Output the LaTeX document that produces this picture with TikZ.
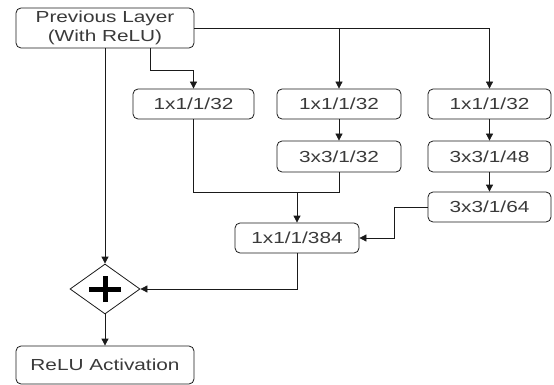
\documentclass[tikz,border=0pt]{standalone}
\usepackage{fontspec}
\setmainfont{Liberation Sans}[FakeStretch=1.3]
\usetikzlibrary{arrows.meta,shapes.geometric}
\definecolor{inkline}{HTML}{1A1A1A}
\definecolor{inktext}{HTML}{3A3A3A}
\begin{document}
\begin{tikzpicture}[x=1pt,y=-1pt,
  layer/.style={draw=inkline,line width=0.8pt,rounded corners=5pt,
    text=inktext,font=\fontsize{16}{19}\selectfont,inner sep=0pt,align=center},
  conn/.style={draw=inkline,line width=0.8pt},
  arr/.style={conn,-{Triangle[length=7pt,width=7pt]}}]
\useasboundingbox (0,0) rectangle (554,385);

% layers
\node[layer,minimum width=178pt,minimum height=40pt] (prev) at (105,28) {Previous Layer\\(With ReLU)};
\node[layer,minimum width=121pt,minimum height=30pt] (b11) at (193.5,104) {1x1/1/32};
\node[layer,minimum width=124pt,minimum height=30pt] (b21) at (339,104) {1x1/1/32};
\node[layer,minimum width=123pt,minimum height=30pt] (b31) at (489.5,104) {1x1/1/32};
\node[layer,minimum width=124pt,minimum height=31pt] (b22) at (339,156.5) {3x3/1/32};
\node[layer,minimum width=123pt,minimum height=31pt] (b32) at (489.5,156.5) {3x3/1/48};
\node[layer,minimum width=123pt,minimum height=30pt] (b33) at (489.5,207) {3x3/1/64};
\node[layer,minimum width=124pt,minimum height=30pt] (b384) at (297,238) {1x1/1/384};
\node[layer,minimum width=178pt,minimum height=38pt] (relu) at (105,365) {ReLU Activation};

% element-wise sum
\node[diamond,draw=inkline,line width=0.8pt,inner sep=0pt,minimum width=70pt,minimum height=50pt] (sum) at (105,289) {};
\draw[black,line width=5pt] ([xshift=-16pt]sum.center) -- ([xshift=16pt]sum.center)
  ([yshift=-13pt]sum.center) -- ([yshift=13pt]sum.center);

% routing points
\coordinate (k1) at (150,70);
\coordinate (m1) at (339,192);
\coordinate (c3) at (394,207);

% connectors
\draw[arr] (prev.east) -| (b31.north);
\draw[arr] (prev.east -| b21.north) -- (b21.north);
\draw[arr] (prev.south -| k1) -- (k1) -| (b11.north);
\draw[arr] (prev.south) -- (sum.north);
\draw[arr] (b21.south) -- (b22.north);
\draw[arr] (b31.south) -- (b32.north);
\draw[arr] (b32.south) -- (b33.north);
\draw[conn] (b11.south) |- (m1) -- (b22.south);
\draw[arr] (b384.north |- m1) -- (b384.north);
\draw[arr] (b33.west) -- (c3) |- (b384.east);
\draw[arr] (b384.south) |- (sum.east);
\draw[arr] (sum.south) -- (relu.north);
\end{tikzpicture}
\end{document}
